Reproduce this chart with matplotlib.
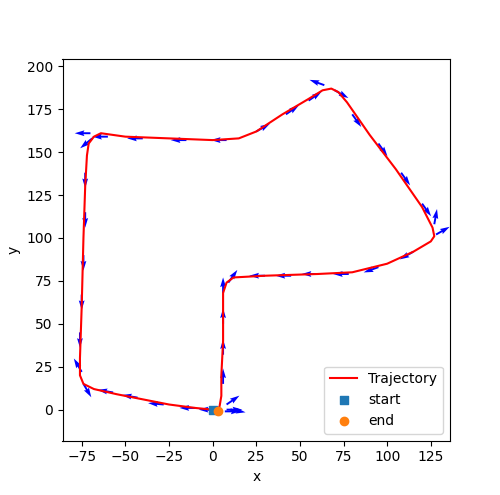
import numpy as np
import matplotlib
matplotlib.use("Agg")
import matplotlib.pyplot as plt

traj_x = [0, -10, -25, -40, -55, -68, -74, -76, -76, -75, -74, -73, -72, -71, -68, -64, -50, -25, 0, 15, 25, 40, 55, 63, 68, 72, 77, 90, 105, 120, 126, 127, 125, 115, 100, 80, 60, 30, 12, 8, 6, 6, 5, 5, 4, 3]
traj_y = [0, 1, 3, 6, 9, 12, 15, 20, 30, 60, 100, 130, 148, 155, 159, 161, 159, 158, 157, 158, 162, 172, 181, 186, 187, 185, 179, 160, 140, 118, 106, 101, 98, 92, 85, 80, 79, 78, 77, 74, 68, 40, 20, 8, 2, 0]

arr_x = [1, 5, 8, -10, -28, -43, -57, -74, -75, -76, -75, -74, -73, -73, -70, -69, -60, -40, -15, 8, 25, 42, 55, 64, 70, 80, 95, 108, 120, 127, 128, 115, 95, 78, 60, 45, 30, 9, 6, 6, 6, 6, 8, 10, 7]
arr_y = [0, 0, 0, 1, 3, 7, 10, 15, 22, 45, 67, 90, 115, 138, 161, 158, 159, 158, 157, 157, 162, 172, 180, 189, 186, 172, 155, 138, 120, 108, 102, 92, 83, 79, 79, 78, 78, 74, 68, 50, 32, 15, 3, 0, -1]
arr_ang = [180, 180, 0, 180, 175, 170, 170, -60, 120, -90, -90, -90, -90, -90, 180, 220, 180, 180, 180, 180, 30, 35, 35, 160, -30, -55, -55, -55, -55, 80, 30, 210, 200, 180, 180, 180, 180, 55, 90, 90, 90, 90, 35, -10, 0]

fig = plt.figure(figsize=(5, 4.95), dpi=100)
ax = fig.add_subplot(111)
a = np.deg2rad(arr_ang)
L = 9
ax.quiver(arr_x, arr_y, L*np.cos(a), L*np.sin(a), color='blue', angles='xy',
          scale_units='xy', scale=1, width=0.005)
ax.plot(traj_x, traj_y, color='red', label='Trajectory')
ax.scatter([traj_x[0]], [traj_y[0]], marker='s', color='C0', label='start', zorder=3)
ax.scatter([3], [-1], marker='o', color='C1', label='end', zorder=3)
ax.set_xlim(-86, 136)
ax.set_ylim(-18, 204)
ax.set_xlabel('x')
ax.set_ylabel('y')
ax.legend(loc='lower right')
fig.savefig('out.png')
